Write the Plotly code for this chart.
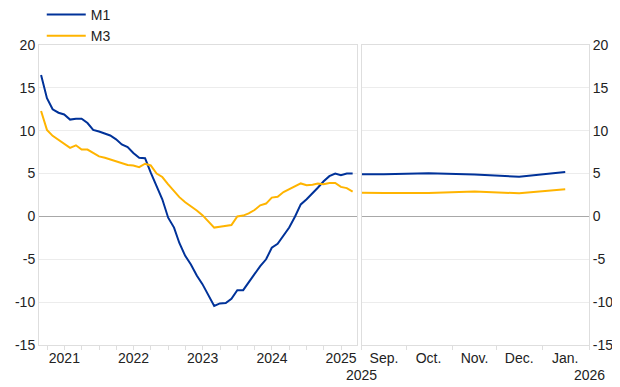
import pandas as pd
import plotly.graph_objects as go

# ---- data ----
# Left panel: monthly, Feb 2021 .. Aug 2025 (annual growth, %)
monthly_dates = pd.date_range("2021-02-28", "2025-08-31", freq="ME")
m1_monthly = [16.5, 13.8, 12.5, 12.1, 11.9, 11.3, 11.4, 11.4, 10.9, 10.1,
              9.9, 9.65, 9.45, 9.0, 8.4, 8.1, 7.4, 6.85, 6.8, 5.1,
              3.5, 2.0, -0.15, -1.3, -3.1, -4.6, -5.6, -6.9, -7.9, -9.1,
              -10.45, -10.15, -10.1, -9.6, -8.6, -8.6, -7.7, -6.8, -5.8, -5.0,
              -3.65, -3.2, -2.3, -1.3, 0.0, 1.4, 2.0, 2.65, 3.35, 4.1,
              4.7, 5.0, 4.8, 5.0, 5.0]
m3_monthly = [12.3, 10.1, 9.4, 8.9, 8.5, 8.0, 8.3, 7.8, 7.8, 7.4,
              7.0, 6.85, 6.65, 6.45, 6.25, 6.0, 5.95, 5.75, 6.15, 5.95,
              5.0, 4.6, 3.75, 2.9, 2.25, 1.65, 1.2, 0.7, 0.15, -0.6,
              -1.3, -1.2, -1.1, -1.0, 0.0, 0.1, 0.35, 0.75, 1.3, 1.5,
              2.2, 2.3, 2.85, 3.2, 3.55, 3.85, 3.65, 3.7, 3.85, 3.75,
              3.9, 3.9, 3.45, 3.3, 2.9]

# Right panel: recent observations, Sep 2025 .. Jan 2026
recent_dates = ["2025-09-01", "2025-09-16", "2025-10-16", "2025-11-16",
                "2025-12-16", "2026-01-16"]
m1_recent = [4.92, 4.93, 5.05, 4.9, 4.63, 5.18]
m3_recent = [2.77, 2.72, 2.72, 2.9, 2.7, 3.16]

year_ticks = ["2021-07-01", "2022-07-01", "2023-07-01", "2024-07-01", "2025-07-01"]
year_labels = ["2021", "2022", "2023", "2024", "2025"]
month_ticks = ["2025-09-16", "2025-10-16", "2025-11-16", "2025-12-16", "2026-01-16"]
month_labels = ["Sep.", "Oct.", "Nov.", "Dec.", "Jan."]

BLUE = "#003299"
YELLOW = "#FFB400"
GRID = "#ececec"
BORDER = "#dedede"
ZERO = "#a8a8a8"
TXT = "#222222"
FONT = "Liberation Sans, Arial, sans-serif"

fig = go.Figure()
fig.add_trace(go.Scatter(x=monthly_dates, y=m1_monthly, name="M1", mode="lines",
                         line=dict(color=BLUE, width=2), xaxis="x", yaxis="y"))
fig.add_trace(go.Scatter(x=monthly_dates, y=m3_monthly, name="M3", mode="lines",
                         line=dict(color=YELLOW, width=2), xaxis="x", yaxis="y"))
fig.add_trace(go.Scatter(x=recent_dates, y=m1_recent, name="M1", mode="lines",
                         line=dict(color=BLUE, width=2), xaxis="x2", yaxis="y2",
                         showlegend=False))
fig.add_trace(go.Scatter(x=recent_dates, y=m3_recent, name="M3", mode="lines",
                         line=dict(color=YELLOW, width=2), xaxis="x2", yaxis="y2",
                         showlegend=False))

yaxis_common = dict(range=[-15, 20], tickvals=[-15, -10, -5, 0, 5, 10, 15, 20],
                    ticktext=["-15", "-10", "-5", "0", "5", "10", "15", "20"],
                    showgrid=True, gridcolor=GRID, gridwidth=1,
                    zeroline=True, zerolinecolor=ZERO, zerolinewidth=1,
                    showline=True, linecolor=BORDER, linewidth=1, mirror=True,
                    ticks="", tickfont=dict(size=14, color=TXT, family=FONT),
                    fixedrange=True)

# page body has an 8px margin, so the figure is sized/offset to compensate
fig.update_layout(
    width=612, height=379,
    margin=dict(l=31, r=31, t=37, b=42, autoexpand=False),
    paper_bgcolor="white", plot_bgcolor="white",
    font=dict(family=FONT, size=14, color=TXT),
    showlegend=True,
    legend=dict(x=0.005, y=0.977, xanchor="left", yanchor="bottom", orientation="v",
                font=dict(size=14, color=TXT), bgcolor="rgba(0,0,0,0)",
                tracegroupgap=0, itemwidth=39),
    xaxis=dict(domain=[0, 0.5775], type="date",
               range=["2021-02-17", "2025-09-21"],
               tickvals=year_ticks, ticktext=year_labels, ticks="",
               showgrid=False, zeroline=False,
               showline=True, linecolor=BORDER, linewidth=1, mirror=True,
               tickfont=dict(size=14, color=TXT, family=FONT),
               minor=dict(ticks="outside", ticklen=4, tickcolor=BORDER,
                          dtick="M3", tick0="2021-01-01", showgrid=False)),
    xaxis2=dict(domain=[0.5867, 1], type="date", anchor="y2",
                range=["2025-09-01", "2026-02-01"],
                tickvals=month_ticks, ticktext=month_labels, ticks="",
                showgrid=False, zeroline=False,
                showline=True, linecolor=BORDER, linewidth=1, mirror=True,
                tickfont=dict(size=14, color=TXT, family=FONT),
                minor=dict(ticks="outside", ticklen=4, tickcolor=BORDER,
                           dtick="M1", tick0="2025-09-01", showgrid=False)),
    yaxis=dict(anchor="x", side="left", **yaxis_common),
    yaxis2=dict(anchor="x2", side="right", matches="y", **yaxis_common),
)

fig.add_annotation(x="2025-09-01", y=0, xref="x2", yref="paper", yanchor="top",
                   yshift=-20, text="2025", showarrow=False,
                   font=dict(size=14, color=TXT, family=FONT))
fig.add_annotation(x="2026-02-01", y=0, xref="x2", yref="paper", yanchor="top",
                   yshift=-20, text="2026", showarrow=False,
                   font=dict(size=14, color=TXT, family=FONT))

fig.write_html("out.html")
